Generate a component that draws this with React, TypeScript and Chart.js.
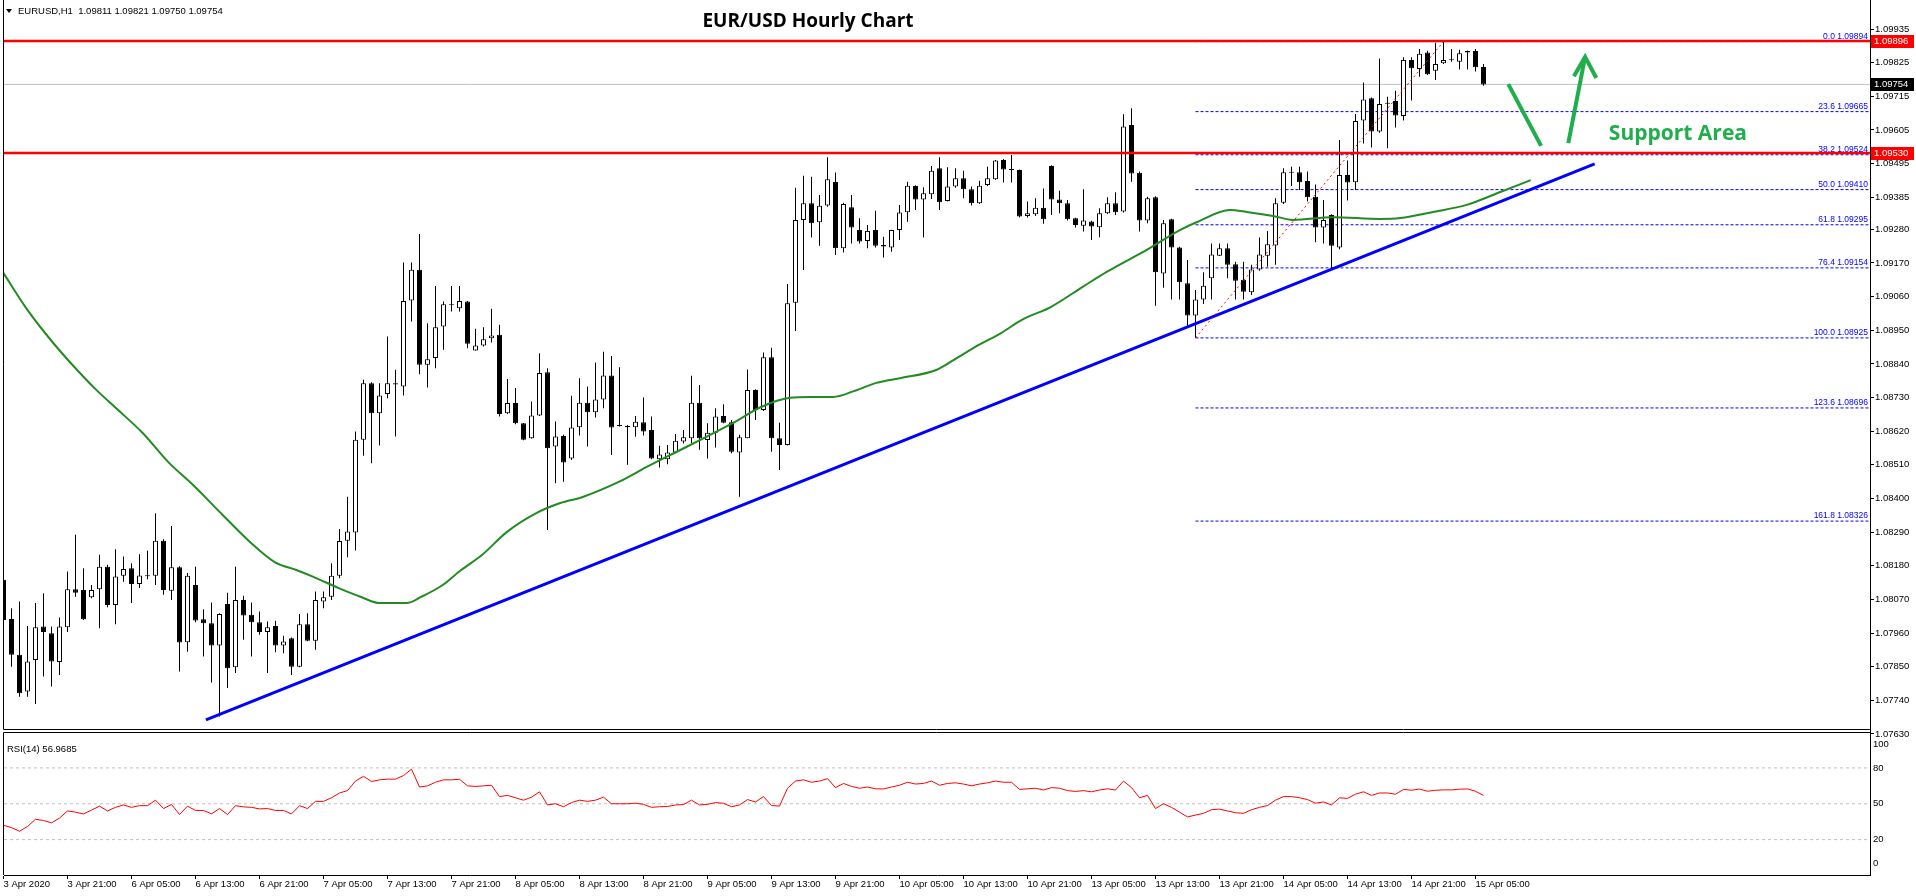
import React, { useEffect, useRef } from 'react';
import { Chart, registerables } from 'chart.js';

Chart.register(...registerables);

const FONT = '"Liberation Sans", Arial, sans-serif';
const TITLE_FONT = '"Open Sans", "Liberation Sans", sans-serif';

// EURUSD H1 candles, oldest first: 3 Apr 13:00 … 15 Apr 06:00
const opens = [
  1.08134, 1.08006, 1.07889, 1.07769, 1.07872, 1.07981, 1.07959, 1.07865, 1.07979, 1.08103,
  1.08101, 1.08077, 1.08103, 1.08177, 1.08052, 1.08147, 1.08172, 1.08120, 1.08146, 1.08147,
  1.08262, 1.08098, 1.08175, 1.07930, 1.08117, 1.08005, 1.07992, 1.07919, 1.08055, 1.07848,
  1.08068, 1.08020, 1.07995, 1.07963, 1.07983, 1.07919, 1.07943, 1.07850, 1.07989, 1.07935,
  1.08063, 1.08079, 1.08147, 1.08262, 1.08289, 1.08592, 1.08777, 1.08679, 1.08742, 1.08773,
  1.08766, 1.09047, 1.09148, 1.08837, 1.08859, 1.08962, 1.09032, 1.09022, 1.09044, 1.08884,
  1.08900, 1.08924, 1.08935, 1.08679, 1.08712, 1.08646, 1.08597, 1.08671, 1.08813, 1.08570,
  1.08604, 1.08531, 1.08633, 1.08713, 1.08682, 1.08724, 1.08802, 1.08637, 1.08637, 1.08633,
  1.08649, 1.08624, 1.08528, 1.08528, 1.08550, 1.08586, 1.08597, 1.08713, 1.08591, 1.08615,
  1.08670, 1.08649, 1.08550, 1.08597, 1.08755, 1.08689, 1.08862, 1.08597, 1.08575, 1.09040,
  1.09311, 1.09365, 1.09303, 1.09358, 1.09435, 1.09218, 1.09352, 1.09278, 1.09242, 1.09278,
  1.09229, 1.09221, 1.09278, 1.09336, 1.09422, 1.09378, 1.09395, 1.09480, 1.09373, 1.09420,
  1.09447, 1.09411, 1.09365, 1.09425, 1.09444, 1.09507, 1.09475, 1.09474, 1.09324, 1.09329,
  1.09351, 1.09487, 1.09378, 1.09365, 1.09316, 1.09292, 1.09306, 1.09287, 1.09333, 1.09365,
  1.09338, 1.09621, 1.09465, 1.09309, 1.09385, 1.09136, 1.09313, 1.09221, 1.09104, 1.08998,
  1.09051, 1.09120, 1.09194, 1.09218, 1.09166, 1.09115, 1.09074, 1.09149, 1.09194, 1.09227,
  1.09367, 1.09465, 1.09467, 1.09438, 1.09387, 1.09286, 1.09327, 1.09221, 1.09458, 1.09434,
  1.09636, 1.09709, 1.09600, 1.09691, 1.09700, 1.09651, 1.09834, 1.09804, 1.09858, 1.09799,
  1.09823, 1.09833, 1.09828, 1.09858, 1.09863, 1.09811,
];
const highs = [
  1.08161, 1.08041, 1.08063, 1.07983, 1.08058, 1.08090, 1.07981, 1.08011, 1.08161, 1.08281,
  1.08172, 1.08117, 1.08216, 1.08183, 1.08234, 1.08210, 1.08188, 1.08218, 1.08229, 1.08352,
  1.08267, 1.08310, 1.08178, 1.08156, 1.08177, 1.08038, 1.08060, 1.08025, 1.08092, 1.08177,
  1.08082, 1.08060, 1.08030, 1.07998, 1.08000, 1.07951, 1.07945, 1.08022, 1.08025, 1.08096,
  1.08096, 1.08188, 1.08300, 1.08406, 1.08619, 1.08788, 1.08780, 1.08777, 1.08930, 1.08821,
  1.09172, 1.09172, 1.09265, 1.08973, 1.09095, 1.09044, 1.09095, 1.09095, 1.09046, 1.08955,
  1.08960, 1.09020, 1.08968, 1.08791, 1.08761, 1.08647, 1.08717, 1.08875, 1.08826, 1.08652,
  1.08608, 1.08736, 1.08793, 1.08766, 1.08845, 1.08880, 1.08866, 1.08829, 1.08640, 1.08670,
  1.08730, 1.08668, 1.08572, 1.08575, 1.08611, 1.08624, 1.08801, 1.08771, 1.08646, 1.08695,
  1.08708, 1.08657, 1.08608, 1.08822, 1.08757, 1.08877, 1.08893, 1.08648, 1.09101, 1.09416,
  1.09455, 1.09452, 1.09392, 1.09516, 1.09466, 1.09367, 1.09392, 1.09316, 1.09294, 1.09341,
  1.09256, 1.09279, 1.09360, 1.09436, 1.09424, 1.09418, 1.09487, 1.09516, 1.09483, 1.09480,
  1.09472, 1.09420, 1.09439, 1.09485, 1.09507, 1.09510, 1.09523, 1.09476, 1.09371, 1.09382,
  1.09414, 1.09490, 1.09406, 1.09376, 1.09318, 1.09411, 1.09308, 1.09349, 1.09385, 1.09401,
  1.09656, 1.09676, 1.09469, 1.09387, 1.09388, 1.09311, 1.09315, 1.09223, 1.09180, 1.09082,
  1.09140, 1.09234, 1.09234, 1.09234, 1.09174, 1.09174, 1.09164, 1.09253, 1.09275, 1.09382,
  1.09480, 1.09485, 1.09485, 1.09469, 1.09427, 1.09376, 1.09329, 1.09572, 1.09505, 1.09657,
  1.09760, 1.09711, 1.09839, 1.09714, 1.09733, 1.09843, 1.09843, 1.09870, 1.09864, 1.09890,
  1.09894, 1.09870, 1.09867, 1.09865, 1.09870, 1.09821,
];
const lows = [
  1.07998, 1.07850, 1.07752, 1.07752, 1.07728, 1.07818, 1.07785, 1.07823, 1.07963, 1.08079,
  1.08003, 1.08074, 1.07976, 1.08044, 1.07989, 1.08128, 1.08058, 1.08107, 1.08136, 1.08117,
  1.08085, 1.08068, 1.07834, 1.07899, 1.07995, 1.07883, 1.07798, 1.07687, 1.07780, 1.07829,
  1.07938, 1.07883, 1.07954, 1.07829, 1.07897, 1.07894, 1.07823, 1.07848, 1.07933, 1.07905,
  1.08041, 1.08068, 1.08139, 1.08208, 1.08230, 1.08540, 1.08515, 1.08573, 1.08728, 1.08603,
  1.08737, 1.08979, 1.08806, 1.08763, 1.08826, 1.08886, 1.09011, 1.09011, 1.08891, 1.08883,
  1.08897, 1.08910, 1.08668, 1.08676, 1.08643, 1.08590, 1.08595, 1.08670, 1.08297, 1.08450,
  1.08455, 1.08526, 1.08606, 1.08570, 1.08665, 1.08695, 1.08542, 1.08635, 1.08510, 1.08602,
  1.08606, 1.08528, 1.08501, 1.08512, 1.08548, 1.08580, 1.08580, 1.08559, 1.08531, 1.08567,
  1.08646, 1.08548, 1.08406, 1.08597, 1.08657, 1.08686, 1.08553, 1.08493, 1.08573, 1.08948,
  1.09147, 1.09253, 1.09226, 1.09354, 1.09196, 1.09204, 1.09234, 1.09234, 1.09218, 1.09221,
  1.09188, 1.09207, 1.09245, 1.09305, 1.09343, 1.09253, 1.09379, 1.09343, 1.09371, 1.09416,
  1.09382, 1.09358, 1.09363, 1.09422, 1.09441, 1.09433, 1.09433, 1.09319, 1.09319, 1.09324,
  1.09298, 1.09327, 1.09333, 1.09309, 1.09286, 1.09273, 1.09245, 1.09254, 1.09330, 1.09327,
  1.09335, 1.09436, 1.09273, 1.09300, 1.09030, 1.09089, 1.09051, 1.09051, 1.08965, 1.08925,
  1.09036, 1.09051, 1.09193, 1.09120, 1.09051, 1.09051, 1.09065, 1.09145, 1.09158, 1.09164,
  1.09363, 1.09422, 1.09409, 1.09371, 1.09238, 1.09234, 1.09149, 1.09215, 1.09374, 1.09409,
  1.09561, 1.09548, 1.09596, 1.09545, 1.09613, 1.09636, 1.09701, 1.09779, 1.09785, 1.09768,
  1.09821, 1.09828, 1.09803, 1.09803, 1.09796, 1.09750,
];
const closes = [
  1.08003, 1.07889, 1.07763, 1.07867, 1.07979, 1.07963, 1.07867, 1.07981, 1.08103, 1.08092,
  1.08005, 1.08101, 1.08177, 1.08052, 1.08145, 1.08169, 1.08120, 1.08148, 1.08148, 1.08262,
  1.08101, 1.08175, 1.07929, 1.08147, 1.08001, 1.07992, 1.07919, 1.08022, 1.07845, 1.08068,
  1.08017, 1.07995, 1.07963, 1.07979, 1.07919, 1.07932, 1.07850, 1.07989, 1.07935, 1.08068,
  1.08077, 1.08147, 1.08261, 1.08292, 1.08592, 1.08777, 1.08679, 1.08737, 1.08777, 1.08777,
  1.09046, 1.09148, 1.08837, 1.08855, 1.08960, 1.09035, 1.09034, 1.09046, 1.08906, 1.08900,
  1.08921, 1.08933, 1.08676, 1.08712, 1.08646, 1.08592, 1.08671, 1.08810, 1.08564, 1.08603,
  1.08518, 1.08632, 1.08713, 1.08682, 1.08724, 1.08802, 1.08632, 1.08639, 1.08633, 1.08651,
  1.08619, 1.08531, 1.08544, 1.08550, 1.08589, 1.08600, 1.08713, 1.08597, 1.08615, 1.08668,
  1.08648, 1.08553, 1.08600, 1.08755, 1.08689, 1.08862, 1.08597, 1.08575, 1.09038, 1.09311,
  1.09365, 1.09300, 1.09357, 1.09444, 1.09218, 1.09363, 1.09286, 1.09240, 1.09275, 1.09226,
  1.09224, 1.09278, 1.09335, 1.09423, 1.09378, 1.09398, 1.09472, 1.09369, 1.09420, 1.09447,
  1.09411, 1.09365, 1.09423, 1.09447, 1.09505, 1.09476, 1.09474, 1.09322, 1.09333, 1.09351,
  1.09313, 1.09378, 1.09365, 1.09313, 1.09294, 1.09309, 1.09289, 1.09333, 1.09365, 1.09336,
  1.09616, 1.09463, 1.09309, 1.09382, 1.09140, 1.09300, 1.09221, 1.09107, 1.08998, 1.09051,
  1.09096, 1.09198, 1.09218, 1.09164, 1.09112, 1.09076, 1.09149, 1.09198, 1.09231, 1.09365,
  1.09467, 1.09468, 1.09434, 1.09385, 1.09286, 1.09311, 1.09226, 1.09458, 1.09433, 1.09634,
  1.09705, 1.09600, 1.09690, 1.09693, 1.09652, 1.09834, 1.09807, 1.09854, 1.09787, 1.09821,
  1.09834, 1.09835, 1.09856, 1.09863, 1.09810, 1.09754,
];

// RSI(14), one value per candle
const rsiValues = [
  32, 30, 27, 31, 37, 36, 34, 38, 44, 43,
  41.5, 44.7, 48, 44, 47, 49, 47, 48.4, 48.4, 53,
  46, 49.4, 41, 48, 44.4, 44.4, 41.5, 46, 41, 48.4,
  47.4, 47, 45.7, 46, 44.4, 44.4, 41.5, 48.4, 46, 52,
  52, 55, 59, 61, 69, 73, 68.6, 70, 70.6, 70.6,
  73.6, 79, 64, 65, 68, 70, 70, 70.5, 65, 64.5,
  65, 65.5, 56, 57, 55, 53, 55.5, 60, 49, 50,
  47.5, 51, 53, 52, 53, 55.5, 50, 50, 50, 50.5,
  49.5, 47, 47.5, 47.7, 49, 49.3, 53, 49, 49.5, 51,
  50.4, 47.5, 49, 53.5, 51.5, 56, 48.5, 48, 63, 69,
  70, 68, 69, 71, 63.5, 67, 64.5, 63, 64, 62.5,
  62.4, 64, 65.5, 68, 66.5, 67, 69, 65.5, 67, 67.5,
  66.5, 65, 66.5, 67.5, 69, 68, 68, 62, 62.5, 63,
  61.5, 63.5, 63, 61, 60.3, 61, 60, 61.5, 62.5, 61.5,
  69, 63.5, 55, 57, 46, 50, 47, 43, 39, 40.5,
  42, 45, 45.5, 44, 42.5, 42, 45, 47, 48.5, 53,
  56, 56, 55, 53.5, 50.5, 51.5, 49, 55, 54.5, 58,
  60, 57, 59, 59, 58, 62, 61.3, 62.3, 60.5, 61.3,
  61.6, 61.6, 62.2, 62.4, 60.5, 56.9685,
];

// Moving average (shifted forward), sampled along the curve: bar index / price
const maIndex = [
  0, 2.9, 5.6, 8.4, 11.6, 14.3, 17.4, 20.6, 23.7, 27.4, 30.8, 33.9, 36.6, 38.8, 41.9,
  44.7, 47, 50.4, 52.2, 54.9, 57.2, 59.8, 62.9, 66.6, 69.6, 72.4, 76.9, 80.4, 84.1, 87.6,
  91.2, 94.7, 98.3, 100.9, 103.7, 106.3, 109.1, 112.2, 116.6, 118.8, 121.9, 124.7, 127.3, 130.9, 134.9,
  137.9, 142.9, 147.1, 149.2, 153.3, 155.4, 158.7, 161.2, 166.2, 172.1, 174.6, 178.7, 182.9, 187.1, 190.9,
];
const maValues = [
  1.09137, 1.0902, 1.08928, 1.08843, 1.08755, 1.0869, 1.08614, 1.08519, 1.08444, 1.08346, 1.08258, 1.08192, 1.08166, 1.08143, 1.08107,
  1.08078, 1.08058, 1.08058, 1.08078, 1.08117, 1.08166, 1.08215, 1.0829, 1.08352, 1.08385, 1.08405, 1.08454, 1.08503, 1.08552, 1.08598,
  1.08647, 1.08699, 1.08729, 1.08732, 1.08732, 1.08751, 1.08778, 1.08794, 1.0882, 1.08853, 1.08902, 1.08941, 1.08984, 1.09026, 1.09092,
  1.09141, 1.09213, 1.09278, 1.09304, 1.09343, 1.09337, 1.09324, 1.09311, 1.0932, 1.09314, 1.09317, 1.09337, 1.0936, 1.09402, 1.09441,
];

const timeTickIndex = [0, 8, 16, 24, 32, 40, 48, 56, 64, 72, 80, 88, 96, 104, 112, 120, 128, 136, 144, 152, 160, 168, 176, 184];
const timeTickLabels = [
  '3 Apr 2020', '3 Apr 21:00', '6 Apr 05:00', '6 Apr 13:00', '6 Apr 21:00', '7 Apr 05:00', '7 Apr 13:00', '7 Apr 21:00',
  '8 Apr 05:00', '8 Apr 13:00', '8 Apr 21:00', '9 Apr 05:00', '9 Apr 13:00', '9 Apr 21:00', '10 Apr 05:00', '10 Apr 13:00',
  '10 Apr 21:00', '13 Apr 05:00', '13 Apr 13:00', '13 Apr 21:00', '14 Apr 05:00', '14 Apr 13:00', '14 Apr 21:00', '15 Apr 05:00',
];
const priceTicks = [
  1.09935, 1.09825, 1.09715, 1.09605, 1.09495, 1.09385, 1.0928, 1.0917, 1.0906, 1.0895, 1.0884,
  1.0873, 1.0862, 1.0851, 1.084, 1.0829, 1.0818, 1.0807, 1.0796, 1.0785, 1.0774, 1.0763,
];
const rsiTicks = [100, 80, 50, 20, 0];
const rsiLevels = [80, 50, 20];

// Fibonacci retracement from the 13 Apr low to the 14 Apr high
const fibRatios = ['0.0', '23.6', '38.2', '50.0', '61.8', '76.4', '100.0', '123.6', '161.8'];
const fibPrices = [1.09894, 1.09665, 1.09524, 1.0941, 1.09295, 1.09154, 1.08925, 1.08696, 1.08326];
const fibFromBar = 149;
const fibToBar = 180;

const trendBars = [25.3, 198.9];
const trendPrices = [1.07676, 1.09494];
const horizontalLevels = [1.09896, 1.0953];
const lastPrice = 1.09754;
const headerQuote = 'EURUSD,H1  1.09811 1.09821 1.09750 1.09754';
const rsiCaption = 'RSI(14) 56.9685';

// scale ranges
const X_MIN = 0.0625;
const X_MAX = 233.3125;
const PRICE_MAX = 1.1003;
const PRICE_MIN = 1.0716875;
const RSI_MIN = -9.62;
const RSI_MAX = 722.6;

const GREEN = '#1fae4b';

const hline = (v: number) => [{ x: X_MIN, y: v }, { x: X_MAX, y: v }];

const overlayPlugin = {
  id: 'terminalOverlay',
  afterDraw(chart: any) {
    const { ctx, chartArea, scales } = chart;
    const xs = scales.x;
    const ys = scales.y;
    const rs = scales.yRsi;
    const px = (i: number) => xs.getPixelForValue(i);
    const py = (p: number) => ys.getPixelForValue(p);
    ctx.save();

    // panel frames
    const mainBottom = 729.5;
    const rsiTop = 732.5;
    ctx.strokeStyle = '#000';
    ctx.lineWidth = 1;
    ctx.beginPath();
    ctx.moveTo(3.5, 0);
    ctx.lineTo(3.5, mainBottom);
    ctx.lineTo(chartArea.right, mainBottom);
    ctx.moveTo(3.5, chartArea.bottom);
    ctx.lineTo(3.5, rsiTop);
    ctx.lineTo(chartArea.right, rsiTop);
    ctx.stroke();

    // header quote
    ctx.fillStyle = '#000';
    ctx.beginPath();
    ctx.moveTo(6, 9);
    ctx.lineTo(12, 9);
    ctx.lineTo(9, 13);
    ctx.closePath();
    ctx.fill();
    ctx.font = `9.5px ${FONT}`;
    ctx.textAlign = 'left';
    ctx.textBaseline = 'middle';
    ctx.fillText(headerQuote, 18, 11);

    // title
    ctx.font = `bold 19px ${TITLE_FONT}`;
    ctx.textAlign = 'center';
    ctx.fillText('EUR/USD Hourly Chart', 808, 22);

    // fibonacci level captions
    ctx.fillStyle = '#0000ff';
    ctx.font = `8.5px ${FONT}`;
    ctx.textAlign = 'right';
    ctx.textBaseline = 'bottom';
    fibPrices.forEach((p, i) => {
      ctx.fillText(`${fibRatios[i]} ${p.toFixed(5)}`, chartArea.right - 2, py(p) - 1);
    });

    // price tags on the right axis
    const tag = (p: number, bg: string) => {
      const y = py(p);
      ctx.fillStyle = bg;
      ctx.fillRect(chartArea.right + 1, Math.round(y) - 6, 43, 13);
      ctx.fillStyle = '#fff';
      ctx.font = `9.5px ${FONT}`;
      ctx.textAlign = 'left';
      ctx.textBaseline = 'middle';
      ctx.fillText(p.toFixed(5), chartArea.right + 4, Math.round(y) + 0.5);
    };
    horizontalLevels.forEach((p) => tag(p, '#ff0000'));
    tag(lastPrice, '#000000');

    // RSI axis labels and caption
    ctx.fillStyle = '#000';
    ctx.font = `9.5px ${FONT}`;
    ctx.textAlign = 'left';
    ctx.textBaseline = 'middle';
    rsiTicks.forEach((v) => ctx.fillText(String(v), chartArea.right + 3, rs.getPixelForValue(v)));
    ctx.fillText(rsiCaption, 7, 749);

    // pullback / rebound arrows
    ctx.strokeStyle = GREEN;
    ctx.lineWidth = 4;
    ctx.lineCap = 'butt';
    ctx.lineJoin = 'miter';
    ctx.beginPath();
    ctx.moveTo(px(188.1), py(1.09755));
    ctx.lineTo(px(192.2), py(1.09553));
    ctx.stroke();
    ctx.beginPath();
    ctx.moveTo(px(195.6), py(1.09562));
    ctx.lineTo(px(197.7), py(1.09844));
    ctx.stroke();
    ctx.beginPath();
    ctx.moveTo(px(196.3), py(1.09781));
    ctx.lineTo(px(197.7), py(1.09844));
    ctx.lineTo(px(199.1), py(1.09775));
    ctx.stroke();

    ctx.fillStyle = GREEN;
    ctx.font = `bold 21px ${TITLE_FONT}`;
    ctx.textAlign = 'center';
    ctx.textBaseline = 'middle';
    ctx.fillText('Support Area', px(209.3), py(1.09592));

    ctx.restore();
  },
};

export default function App() {
  const canvasRef = useRef<HTMLCanvasElement>(null);

  useEffect(() => {
    document.body.style.margin = '0';
    const canvas = canvasRef.current;
    if (!canvas) return;

    const bars = opens.map((_, i) => i);
    const bodyColors = bars.map((i) => (closes[i] >= opens[i] ? '#ffffff' : '#000000'));

    const chart = new Chart(canvas, {
      type: 'bar',
      data: {
        datasets: [
          {
            type: 'line',
            data: rsiValues.map((v, i) => ({ x: i, y: v })),
            yAxisID: 'yRsi',
            borderColor: '#ff0000',
            borderWidth: 1,
            pointRadius: 0,
            tension: 0,
            order: 1,
          },
          ...rsiLevels.map((lvl) => ({
            type: 'line' as const,
            data: hline(lvl),
            yAxisID: 'yRsi',
            borderColor: '#c0c0c0',
            borderWidth: 1,
            borderDash: [3, 3],
            pointRadius: 0,
            order: 12,
          })),
          ...horizontalLevels.map((p) => ({
            type: 'line' as const,
            data: hline(p),
            yAxisID: 'y',
            borderColor: '#ff0000',
            borderWidth: 2.5,
            pointRadius: 0,
            order: 2,
          })),
          {
            type: 'line',
            data: [
              { x: fibFromBar, y: fibPrices[6] },
              { x: fibToBar, y: fibPrices[0] },
            ],
            yAxisID: 'y',
            borderColor: '#ff0000',
            borderWidth: 1,
            borderDash: [2, 3],
            pointRadius: 0,
            order: 3,
          },
          {
            type: 'line',
            data: trendBars.map((b, i) => ({ x: b, y: trendPrices[i] })),
            yAxisID: 'y',
            borderColor: '#0000ff',
            borderWidth: 3,
            pointRadius: 0,
            order: 4,
          },
          {
            type: 'line',
            data: maIndex.map((b, i) => ({ x: b, y: maValues[i] })),
            yAxisID: 'y',
            borderColor: '#228b22',
            borderWidth: 2,
            pointRadius: 0,
            cubicInterpolationMode: 'monotone',
            order: 5,
          },
          {
            type: 'bar',
            data: bars.map((i) => ({ x: i, y: [opens[i], closes[i]] })),
            yAxisID: 'y',
            backgroundColor: bodyColors,
            borderColor: '#000000',
            borderWidth: 1,
            borderSkipped: false,
            barThickness: 5,
            minBarLength: 1,
            inflateAmount: 0,
            grouped: false,
            order: 7,
          } as any,
          {
            type: 'bar',
            data: bars.map((i) => ({ x: i, y: [lows[i], highs[i]] })),
            yAxisID: 'y',
            backgroundColor: '#000000',
            borderWidth: 0,
            barThickness: 1,
            minBarLength: 1,
            inflateAmount: 0,
            grouped: false,
            order: 8,
          } as any,
          {
            type: 'line',
            data: hline(lastPrice),
            yAxisID: 'y',
            borderColor: '#c0c0c0',
            borderWidth: 1,
            pointRadius: 0,
            order: 9,
          },
          ...fibPrices.map((p) => ({
            type: 'line' as const,
            data: [
              { x: fibFromBar, y: p },
              { x: X_MAX, y: p },
            ],
            yAxisID: 'y',
            borderColor: '#0000ff',
            borderWidth: 1,
            borderDash: [3, 2],
            pointRadius: 0,
            order: 10,
          })),
        ] as any,
      },
      options: {
        responsive: false,
        maintainAspectRatio: false,
        animation: false,
        devicePixelRatio: 1,
        events: [],
        layout: { autoPadding: false, padding: { left: 4, top: 0, right: 0, bottom: 0 } },
        plugins: { legend: { display: false }, tooltip: { enabled: false } },
        scales: {
          x: {
            type: 'linear',
            position: 'bottom',
            min: X_MIN,
            max: X_MAX,
            offset: false,
            afterBuildTicks: (s: any) => {
              s.ticks = timeTickIndex.map((v) => ({ value: v }));
            },
            afterFit: (s: any) => {
              s.height = 21;
              s.paddingLeft = 0;
              s.paddingRight = 0;
            },
            ticks: {
              autoSkip: false,
              maxRotation: 0,
              minRotation: 0,
              align: 'start',
              padding: 0,
              color: '#000',
              font: { family: FONT, size: 9.5 },
              callback: (v: any) => timeTickLabels[timeTickIndex.indexOf(Number(v))] ?? '',
            },
            grid: { display: true, drawOnChartArea: false, drawTicks: true, tickLength: 4, color: '#000', offset: false },
            border: { display: true, color: '#000' },
          },
          y: {
            type: 'linear',
            position: 'right',
            min: PRICE_MIN,
            max: PRICE_MAX,
            bounds: 'data',
            afterBuildTicks: (s: any) => {
              s.ticks = priceTicks.map((v) => ({ value: v }));
            },
            afterFit: (s: any) => {
              s.width = 46;
              s.paddingTop = 0;
              s.paddingBottom = 0;
            },
            ticks: {
              autoSkip: false,
              padding: 1,
              color: '#000',
              font: { family: FONT, size: 9.5 },
              callback: (v: any) => Number(v).toFixed(5),
            },
            grid: { display: true, drawOnChartArea: false, drawTicks: true, tickLength: 4, color: '#000' },
            border: { display: true, color: '#000' },
          },
          yRsi: {
            type: 'linear',
            axis: 'y',
            position: 'left',
            display: false,
            min: RSI_MIN,
            max: RSI_MAX,
          },
        } as any,
      },
      plugins: [overlayPlugin],
    });

    return () => chart.destroy();
  }, []);

  return (
    <div style={{ position: 'fixed', left: 0, top: 0, width: 1916, height: 896, background: '#fff' }}>
      <canvas ref={canvasRef} width={1916} height={896} style={{ display: 'block' }} />
    </div>
  );
}
